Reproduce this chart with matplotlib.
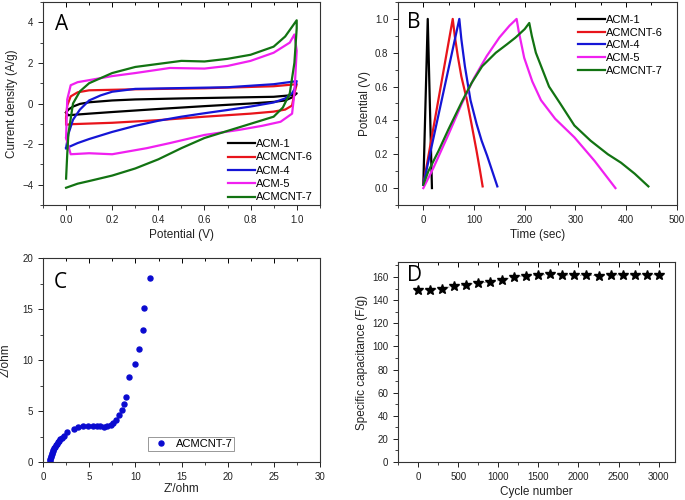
import matplotlib
matplotlib.use("Agg")
import matplotlib.pyplot as plt
import numpy as np
from matplotlib.ticker import MultipleLocator

plt.rcParams['font.family'] = ['Liberation Sans', 'DejaVu Sans']

# ---------------- A: cyclic voltammetry ----------------
cv_labels = ["ACM-1", "ACMCNT-6", "ACM-4", "ACM-5", "ACMCNT-7"]
cv_colors = ["#000000", "#e8141b", "#1515d6", "#f020f0", "#127312"]

acm1_x = [0, 0.01, 0.03, 0.06, 0.1, 0.2, 0.3, 0.5, 0.7, 0.9, 0.97, 1.0,
          0.98, 0.95, 0.9, 0.8, 0.6, 0.4, 0.2, 0.1, 0.03, 0.01, 0]
acm1_y = [-0.45, -0.3, -0.15, -0.02, 0.06, 0.15, 0.2, 0.25, 0.29, 0.33, 0.4, 0.5,
          0.3, 0.15, 0.08, 0.0, -0.13, -0.27, -0.42, -0.5, -0.56, -0.58, -0.45]

cnt6_x = [0, 0.005, 0.02, 0.05, 0.1, 0.3, 0.6, 0.9, 1.0,
          0.99, 0.98, 0.95, 0.9, 0.8, 0.6, 0.4, 0.2, 0.02, 0.0, 0]
cnt6_y = [-0.7, -0.1, 0.35, 0.55, 0.65, 0.7, 0.75, 0.85, 0.95,
          0.5, -0.1, -0.3, -0.4, -0.5, -0.65, -0.82, -0.95, -1.02, -1.05, -0.7]

acm4_x = [0, 0.01, 0.03, 0.06, 0.1, 0.15, 0.2, 0.3, 0.5, 0.7, 0.9, 1.0,
          0.99, 0.98, 0.95, 0.9, 0.8, 0.7, 0.6, 0.5, 0.4, 0.3, 0.2, 0.1, 0.05, 0.0]
acm4_y = [-2.2, -1.5, -0.8, -0.3, 0.15, 0.4, 0.58, 0.72, 0.76, 0.8, 0.95, 1.1,
          0.7, 0.5, 0.25, 0.05, -0.15, -0.32, -0.48, -0.65, -0.85, -1.1, -1.4, -1.75, -1.95, -2.2]

acm5_x = [0, 0.005, 0.02, 0.05, 0.1, 0.2, 0.3, 0.45, 0.6, 0.7, 0.8, 0.9, 0.97, 0.99,
          1.0, 0.99, 0.98, 0.93, 0.85, 0.75, 0.6, 0.45, 0.35, 0.2, 0.1, 0.02, 0.0]
acm5_y = [-1.7, 0.2, 0.9, 1.05, 1.15, 1.35, 1.5, 1.75, 1.72, 1.85, 2.1, 2.5, 3.0, 3.4,
          2.6, 0.5, -0.5, -0.9, -1.1, -1.3, -1.55, -1.95, -2.2, -2.5, -2.45, -2.5, -1.7]

cnt7_x = [0, 0.005, 0.01, 0.03, 0.06, 0.1, 0.15, 0.2, 0.3, 0.4, 0.5, 0.6, 0.7, 0.8, 0.9, 0.95, 1.0,
          1.0, 0.99, 0.97, 0.94, 0.9, 0.8, 0.7, 0.6, 0.5, 0.4, 0.3, 0.2, 0.1, 0.05, 0.0]
cnt7_y = [-3.7, -2.5, -1.5, 0.0, 0.6, 1.0, 1.25, 1.5, 1.8, 1.95, 2.1, 2.07, 2.2, 2.4, 2.8, 3.3, 4.1,
          3.7, 2.0, 0.5, -0.2, -0.65, -1.0, -1.35, -1.7, -2.2, -2.75, -3.2, -3.55, -3.82, -3.95, -4.15]

# ---------------- B: charge / discharge ----------------
gcd1_t = [0, 8.7, 17]
gcd1_v = [0.02, 1.0, 0.0]
gcd6_t = [0, 58, 62, 68, 75, 86, 95, 105, 112, 117]
gcd6_v = [0.02, 1.0, 0.9, 0.78, 0.66, 0.52, 0.38, 0.22, 0.1, 0.01]
gcd4_t = [0, 71, 75, 82, 93, 105, 115, 126, 136, 146]
gcd4_v = [0.02, 1.0, 0.88, 0.72, 0.52, 0.38, 0.28, 0.19, 0.1, 0.01]
gcd5_t = [0, 20, 50, 76, 100, 125, 150, 170, 184, 188, 199, 215, 232, 260, 298, 338, 379]
gcd5_v = [0.0, 0.12, 0.32, 0.5, 0.65, 0.78, 0.89, 0.96, 1.0, 0.93, 0.77, 0.63, 0.52, 0.41, 0.3, 0.16, 0.0]
gcd7_t = [0, 10, 30, 50, 76, 95, 116, 143, 165, 182, 200, 209,
          214, 222, 235, 248, 270, 298, 330, 364, 390, 417, 444]
gcd7_v = [0.02, 0.1, 0.22, 0.35, 0.51, 0.62, 0.72, 0.8, 0.85, 0.89, 0.94, 0.976,
          0.9, 0.8, 0.7, 0.6, 0.5, 0.37, 0.28, 0.2, 0.15, 0.085, 0.01]

# ---------------- C: Nyquist ----------------
z_re = [0.75, 0.77, 0.8, 0.83, 0.87, 0.92, 0.97, 1.03, 1.1, 1.18, 1.27, 1.37, 1.48, 1.6, 1.73,
        1.88, 2.05, 2.25, 2.6, 3.3, 3.8, 4.3, 4.9, 5.4, 5.8, 6.2, 6.6, 6.9, 7.3, 7.6, 7.9,
        8.22, 8.5, 8.73, 9.02, 9.27, 9.99, 10.35, 10.78, 10.96, 11.54]
z_im = [0.0, 0.15, 0.3, 0.45, 0.6, 0.75, 0.9, 1.05, 1.2, 1.35, 1.5, 1.65, 1.8, 1.95, 2.1,
        2.25, 2.4, 2.58, 2.9, 3.2, 3.4, 3.5, 3.55, 3.55, 3.53, 3.5, 3.47, 3.5, 3.6, 3.8, 4.1,
        4.6, 5.09, 5.68, 6.37, 8.37, 9.56, 11.1, 12.9, 15.1, 18.06]

# ---------------- D: cycling ----------------
cycles = [0, 150, 300, 450, 600, 750, 900, 1050, 1200, 1350, 1500, 1650, 1800,
          1950, 2100, 2250, 2400, 2550, 2700, 2850, 3000]
capacitance = [149.1, 149.1, 150.0, 152.3, 153.2, 155.2, 155.5, 157.5, 160.3, 161.2, 161.5,
               162.4, 161.8, 161.5, 161.5, 161.2, 162.0, 161.5, 162.0, 161.8, 162.0]

TXT = '#222222'


def style_axes(ax):
    ax.tick_params(axis='x', which='both', direction='out', top=False, labelsize=7, colors=TXT)
    ax.tick_params(axis='y', which='both', direction='out', right=False, labelsize=7, colors=TXT)
    ax.tick_params(which='major', length=3.5, width=0.7)
    ax.tick_params(which='minor', length=2, width=0.6)
    # origin-style inward ticks on the top edge
    sec = ax.secondary_xaxis('top')
    sec.xaxis.set_major_locator(ax.xaxis.get_major_locator())
    sec.xaxis.set_minor_locator(ax.xaxis.get_minor_locator())
    sec.tick_params(which='both', direction='in', labeltop=False, width=0.7)
    sec.tick_params(which='major', length=3.5)
    sec.tick_params(which='minor', length=2)
    sec.spines['top'].set_visible(False)
    for s in ax.spines.values():
        s.set_linewidth(0.8)
        s.set_color('#333333')


fig = plt.figure(figsize=(6.85, 5.0), dpi=100)

# A
axA = fig.add_axes([0.0628, 0.59, 0.404, 0.406])
cv_x = [acm1_x, cnt6_x, acm4_x, acm5_x, cnt7_x]
cv_y = [acm1_y, cnt6_y, acm4_y, acm5_y, cnt7_y]
for xs, ys, lab, c in zip(cv_x, cv_y, cv_labels, cv_colors):
    axA.plot(xs, ys, color=c, lw=1.6, label=lab)
axA.set_xlim(-0.1, 1.1)
axA.set_ylim(-5, 5)
axA.xaxis.set_major_locator(MultipleLocator(0.2))
axA.xaxis.set_minor_locator(MultipleLocator(0.1))
axA.yaxis.set_major_locator(MultipleLocator(2))
axA.yaxis.set_minor_locator(MultipleLocator(1))
axA.xaxis.set_major_formatter(matplotlib.ticker.FormatStrFormatter('%.1f'))
axA.set_xlabel("Potential (V)", fontsize=8.5, color=TXT, labelpad=3)
axA.set_ylabel("Current density (A/g)", fontsize=8.5, color=TXT, labelpad=3)
style_axes(axA)
axA.legend(loc='lower right', frameon=False, fontsize=8, handlelength=2.4,
           handletextpad=0.1, labelspacing=0.3, borderaxespad=0.2, bbox_to_anchor=(1.0, -0.02))
axA.text(0.045, 0.94, "A", transform=axA.transAxes, fontsize=15, va='top', ha='left',
         family=['Open Sans', 'DejaVu Sans'])

# B
axB = fig.add_axes([0.581, 0.59, 0.407, 0.406])
gcd_t = [gcd1_t, gcd6_t, gcd4_t, gcd5_t, gcd7_t]
gcd_v = [gcd1_v, gcd6_v, gcd4_v, gcd5_v, gcd7_v]
for ts, vs, lab, c in zip(gcd_t, gcd_v, cv_labels, cv_colors):
    axB.plot(ts, vs, color=c, lw=1.6, label=lab)
axB.set_xlim(-50, 500)
axB.set_ylim(-0.1, 1.1)
axB.xaxis.set_major_locator(MultipleLocator(100))
axB.xaxis.set_minor_locator(MultipleLocator(50))
axB.yaxis.set_major_locator(MultipleLocator(0.2))
axB.yaxis.set_minor_locator(MultipleLocator(0.1))
axB.yaxis.set_major_formatter(matplotlib.ticker.FormatStrFormatter('%.1f'))
axB.set_xlabel("Time (sec)", fontsize=8.5, color=TXT, labelpad=3)
axB.set_ylabel("Potential (V)", fontsize=8.5, color=TXT, labelpad=3)
style_axes(axB)
axB.legend(loc='upper right', frameon=False, fontsize=8, handlelength=2.4,
           handletextpad=0.1, labelspacing=0.25, borderaxespad=0.2, bbox_to_anchor=(0.975, 0.97))
axB.text(0.032, 0.95, "B", transform=axB.transAxes, fontsize=15, va='top', ha='left',
         family=['Open Sans', 'DejaVu Sans'])

# C
axC = fig.add_axes([0.0628, 0.076, 0.405, 0.408])
axC.plot(z_re, z_im, 'o', color='#0a0ad0', ms=3.6, label="ACMCNT-7")
axC.set_xlim(0, 30)
axC.set_ylim(0, 20)
axC.xaxis.set_major_locator(MultipleLocator(5))
axC.xaxis.set_minor_locator(MultipleLocator(2.5))
axC.yaxis.set_major_locator(MultipleLocator(5))
axC.yaxis.set_minor_locator(MultipleLocator(2.5))
axC.set_xlabel("Z'/ohm", fontsize=8.5, color=TXT, labelpad=1)
axC.set_ylabel("Z/ohm", fontsize=8.5, color=TXT, labelpad=8)
style_axes(axC)
legC = axC.legend(loc='lower left', bbox_to_anchor=(0.38, 0.055), fontsize=8, fancybox=False,
                  framealpha=1, edgecolor='#888888', handletextpad=0.3, borderpad=0.15,
                  borderaxespad=0.0, handlelength=2.0)
legC.get_frame().set_linewidth(0.6)
axC.text(0.04, 0.93, "C", transform=axC.transAxes, fontsize=15, va='top', ha='left',
         family=['Open Sans', 'DejaVu Sans'])

# D
axD = fig.add_axes([0.581, 0.076, 0.404, 0.4])
axD.plot(cycles, capacitance, linestyle=(0, (2, 2)), color='#888888', lw=0.6)
axD.plot(cycles, capacitance, '*', color='black', ms=7, linestyle='none')
axD.set_xlim(-250, 3200)
axD.set_ylim(0, 173)
axD.xaxis.set_major_locator(MultipleLocator(500))
axD.xaxis.set_minor_locator(MultipleLocator(250))
axD.yaxis.set_major_locator(MultipleLocator(20))
axD.yaxis.set_minor_locator(MultipleLocator(10))
axD.set_xlabel("Cycle number", fontsize=8.5, color=TXT, labelpad=3)
axD.set_ylabel("Specific capacitance (F/g)", fontsize=8.5, color=TXT, labelpad=3)
style_axes(axD)
axD.text(0.032, 0.985, "D", transform=axD.transAxes, fontsize=15, va='top', ha='left',
         family=['Open Sans', 'DejaVu Sans'])

fig.savefig("out.png", dpi=100)
